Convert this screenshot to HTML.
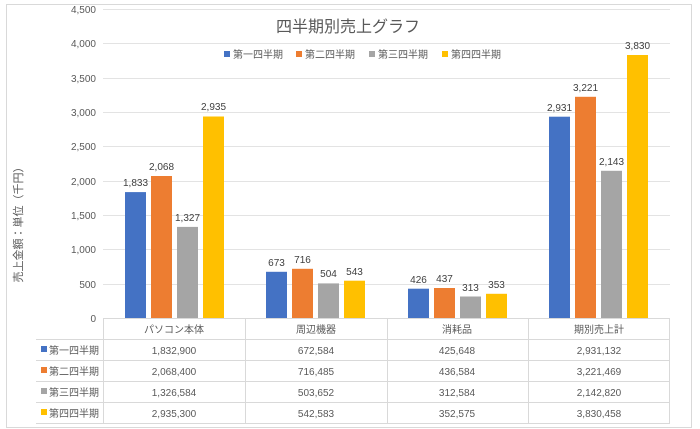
<!DOCTYPE html>
<html><head><meta charset="utf-8"><style>
html,body{margin:0;padding:0;background:#fff;}
svg{display:block;font-family:"Liberation Sans","Noto Sans CJK JP",sans-serif;}
</style></head><body>
<svg width="700" height="429" viewBox="0 0 700 429" xmlns="http://www.w3.org/2000/svg">
<rect x="6.5" y="4.5" width="685" height="423" fill="#fff" stroke="#d9d9d9"/>
<g stroke="#e3e3e3" stroke-width="1">
<line x1="103" x2="670" y1="9.5" y2="9.5"/><line x1="103" x2="670" y1="43.5" y2="43.5"/>
<line x1="103" x2="670" y1="78.5" y2="78.5"/><line x1="103" x2="670" y1="112.5" y2="112.5"/>
<line x1="103" x2="670" y1="146.5" y2="146.5"/><line x1="103" x2="670" y1="181.5" y2="181.5"/>
<line x1="103" x2="670" y1="215.5" y2="215.5"/><line x1="103" x2="670" y1="249.5" y2="249.5"/>
<line x1="103" x2="670" y1="284.5" y2="284.5"/>
</g>
<g font-size="10" fill="#595959" text-anchor="end">
<text x="96" y="13">4,500</text><text x="96" y="47">4,000</text><text x="96" y="82">3,500</text>
<text x="96" y="116">3,000</text><text x="96" y="150">2,500</text><text x="96" y="185">2,000</text>
<text x="96" y="219">1,500</text><text x="96" y="253">1,000</text><text x="96" y="288">500</text>
<text x="96" y="322">0</text>
</g>
<text transform="translate(22,222) rotate(-90)" font-size="11" fill="#595959" text-anchor="middle">売上金額：単位（千円）</text>
<text x="348" y="32" font-size="16" fill="#595959" text-anchor="middle">四半期別売上グラフ</text>
<g font-size="10" fill="#595959">
<rect x="224" y="51" width="6" height="6" fill="#4472c4"/><text x="233" y="58">第一四半期</text>
<rect x="296" y="51" width="6" height="6" fill="#ed7d31"/><text x="305" y="58">第二四半期</text>
<rect x="369" y="51" width="6" height="6" fill="#a5a5a5"/><text x="378" y="58">第三四半期</text>
<rect x="442" y="51" width="6" height="6" fill="#ffc000"/><text x="451" y="58">第四四半期</text>
</g>
<g>
<rect x="125" y="192.1" width="21" height="125.9" fill="#4472c4"/>
<rect x="151" y="176.0" width="21" height="142.0" fill="#ed7d31"/>
<rect x="177" y="226.9" width="21" height="91.1" fill="#a5a5a5"/>
<rect x="203" y="116.5" width="21" height="201.5" fill="#ffc000"/>
<rect x="266" y="271.8" width="21" height="46.2" fill="#4472c4"/>
<rect x="292" y="268.8" width="21" height="49.2" fill="#ed7d31"/>
<rect x="318" y="283.4" width="21" height="34.6" fill="#a5a5a5"/>
<rect x="344" y="280.7" width="21" height="37.3" fill="#ffc000"/>
<rect x="408" y="288.7" width="21" height="29.3" fill="#4472c4"/>
<rect x="434" y="288.0" width="21" height="30.0" fill="#ed7d31"/>
<rect x="460" y="296.5" width="21" height="21.5" fill="#a5a5a5"/>
<rect x="486" y="293.8" width="21" height="24.2" fill="#ffc000"/>
<rect x="549" y="116.7" width="21" height="201.3" fill="#4472c4"/>
<rect x="575" y="96.8" width="21" height="221.2" fill="#ed7d31"/>
<rect x="601" y="170.8" width="21" height="147.2" fill="#a5a5a5"/>
<rect x="627" y="55.0" width="21" height="263.0" fill="#ffc000"/>
</g>
<g font-size="10" fill="#404040" text-anchor="middle">
<text x="135.5" y="186">1,833</text><text x="161.5" y="170">2,068</text><text x="187.5" y="221">1,327</text><text x="213.5" y="110">2,935</text>
<text x="276.5" y="266">673</text><text x="302.5" y="263">716</text><text x="328.5" y="277">504</text><text x="354.5" y="275">543</text>
<text x="418.5" y="283">426</text><text x="444.5" y="282">437</text><text x="470.5" y="291">313</text><text x="496.5" y="288">353</text>
<text x="559.5" y="111">2,931</text><text x="585.5" y="91">3,221</text><text x="611.5" y="165">2,143</text><text x="637.5" y="49">3,830</text>
</g>
<line x1="103" x2="670" y1="318.5" y2="318.5" stroke="#d9d9d9"/>
<g stroke="#d9d9d9" stroke-width="1">
<line x1="36" x2="670" y1="339.5" y2="339.5"/><line x1="36" x2="670" y1="360.5" y2="360.5"/>
<line x1="36" x2="670" y1="381.5" y2="381.5"/><line x1="36" x2="670" y1="402.5" y2="402.5"/>
<line x1="36" x2="670" y1="423.5" y2="423.5"/>
<line x1="103.5" x2="103.5" y1="318" y2="424"/><line x1="245.5" x2="245.5" y1="318" y2="424"/>
<line x1="387.5" x2="387.5" y1="318" y2="424"/><line x1="528.5" x2="528.5" y1="318" y2="424"/>
<line x1="669.5" x2="669.5" y1="318" y2="424"/>
</g>
<g font-size="10" fill="#595959" text-anchor="middle">
<text x="174" y="333">パソコン本体</text><text x="316" y="333">周辺機器</text><text x="457" y="333">消耗品</text><text x="599" y="333">期別売上計</text>
<text x="174" y="354">1,832,900</text><text x="316" y="354">672,584</text><text x="457" y="354">425,648</text><text x="599" y="354">2,931,132</text>
<text x="174" y="375">2,068,400</text><text x="316" y="375">716,485</text><text x="457" y="375">436,584</text><text x="599" y="375">3,221,469</text>
<text x="174" y="396">1,326,584</text><text x="316" y="396">503,652</text><text x="457" y="396">312,584</text><text x="599" y="396">2,142,820</text>
<text x="174" y="417">2,935,300</text><text x="316" y="417">542,583</text><text x="457" y="417">352,575</text><text x="599" y="417">3,830,458</text>
</g>
<g font-size="10" fill="#595959">
<rect x="41" y="346" width="6" height="6" fill="#4472c4"/><text x="49" y="354">第一四半期</text>
<rect x="41" y="367" width="6" height="6" fill="#ed7d31"/><text x="49" y="375">第二四半期</text>
<rect x="41" y="388" width="6" height="6" fill="#a5a5a5"/><text x="49" y="396">第三四半期</text>
<rect x="41" y="409" width="6" height="6" fill="#ffc000"/><text x="49" y="417">第四四半期</text>
</g>
</svg>
</body></html>
